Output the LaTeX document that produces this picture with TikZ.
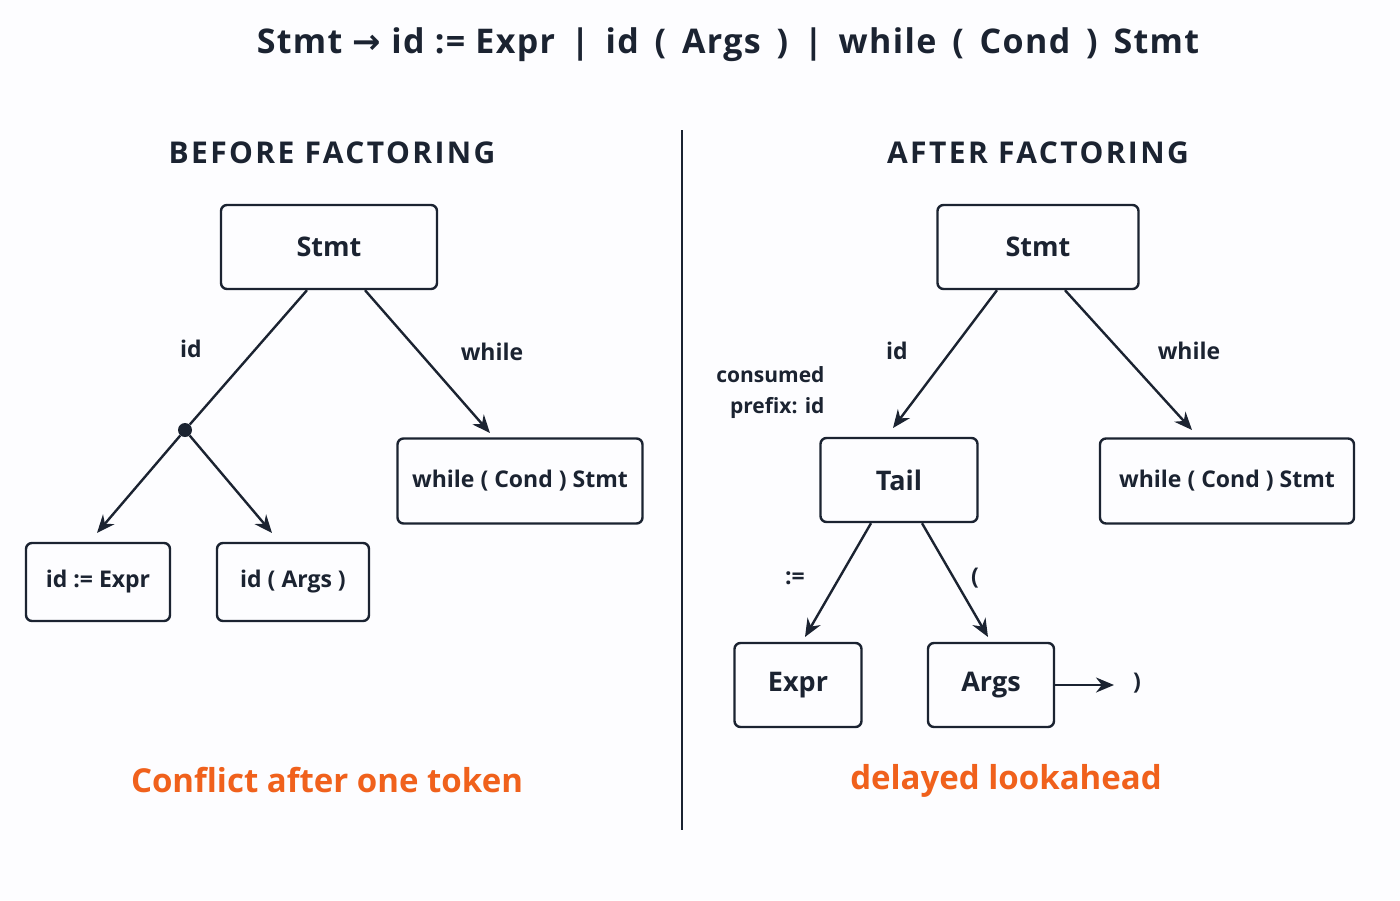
\documentclass[tikz,border=0pt]{standalone}
\usepackage{fontspec}
\setmainfont{Open Sans}
\newfontfamily\djv{DejaVu Sans}
\usetikzlibrary{arrows.meta}
\definecolor{ink}{HTML}{1B2331}
\definecolor{org}{HTML}{F0611C}
\begin{document}
\begin{tikzpicture}[x=1pt,y=-1pt,
 box/.style={draw=ink,line width=2.4pt,rounded corners=6pt,inner sep=0pt,text=ink,font=\fontsize{27}{30}\selectfont\bfseries},
 sbox/.style={box,font=\fontsize{23}{26}\selectfont\bfseries},
 lab/.style={text=ink,font=\fontsize{23}{26}\selectfont\bfseries},
 ar/.style={draw=ink,line width=2.4pt,-{Stealth[length=18pt,width=15pt]}},
 ln/.style={draw=ink,line width=2.4pt},
 head/.style={text=ink,font=\fontsize{30}{34}\selectfont\bfseries\addfontfeature{LetterSpace=8}},
 org/.style={text=org,font=\fontsize{33}{38}\selectfont\bfseries}]
\fill[white!97!blue!30!white] (0,0) rectangle (1400,900);
\useasboundingbox (0,0) rectangle (1400,900);
\node[text=ink,font=\fontsize{34}{38}\selectfont\bfseries\addfontfeature{LetterSpace=4}] (title) at (728,45) {Stmt {\djv\bfseries →} id := Expr \,|\, id \,(\, Args \,)\, |\, while \,(\, Cond \,)\, Stmt};
\node[head] (hb) at (332,153) {BEFORE FACTORING};
\node[head] (ha) at (1038,153) {AFTER FACTORING};
\coordinate (dt) at (682,130); \coordinate (db) at (682,830);
\draw[ln] (dt) -- (db);
% left
\node[box,minimum width=216pt,minimum height=84pt] (s1) at (329,247) {Stmt};
\node[sbox,minimum width=245pt,minimum height=85pt] (w1) at (520,481) {while ( Cond ) Stmt};
\node[sbox,minimum width=144pt,minimum height=78pt] (e1) at (98,582) {id := Expr};
\node[sbox,minimum width=152pt,minimum height=78pt] (a1) at (293,582) {id ( Args )};
\node[circle,fill=ink,inner sep=0pt,minimum size=14pt] (dot) at (185,430) {};
\draw[ln] (s1.south -| 307,0) -- (dot);
\draw[ar] (s1.south -| 365,0) -- (490,433) coordinate (wa);
\draw[ar] (dot) -- (97,533);
\draw[ar] (dot) -- (272,533);
\node[lab] (l1) at (191,349) {id};
\node[lab] (l2) at (492,352) {while};
\node[org] (c1) at (327,780) {Conflict after one token};
% right
\node[box,minimum width=201pt,minimum height=84pt] (s2) at (1038,247) {Stmt};
\node[sbox,minimum width=254pt,minimum height=85pt] (w2) at (1227,481) {while ( Cond ) Stmt};
\node[box,minimum width=157pt,minimum height=84pt] (t) at (899,480) {Tail};
\node[box,minimum width=127pt,minimum height=84pt] (ex) at (798,685) {Expr};
\node[box,minimum width=126pt,minimum height=84pt] (ag) at (991,685) {Args};
\draw[ar] (s2.south -| 997,0) -- (893,428);
\draw[ar] (s2.south -| 1065,0) -- (1192,430);
\draw[ar] (t.south -| 871,0) -- (805,637);
\draw[ar] (t.south -| 922,0) -- (988,637);
\node[lab] (rp) at (1137,683) {)};
\draw[ar] (ag.east) -- (1114,685);
\node[lab] (l3) at (897,351) {id};
\node[lab] (l4) at (1189,351) {while};
\node[lab,align=right,anchor=east,font=\fontsize{21}{31}\selectfont\bfseries] (cp) at (828,393) {consumed\\prefix: id};
\node[lab] (l5) at (795,578) {:=};
\node[lab] (l6) at (975,578) {(};
\node[org] (c2) at (1006,781) {delayed lookahead};
\end{tikzpicture}
\end{document}
